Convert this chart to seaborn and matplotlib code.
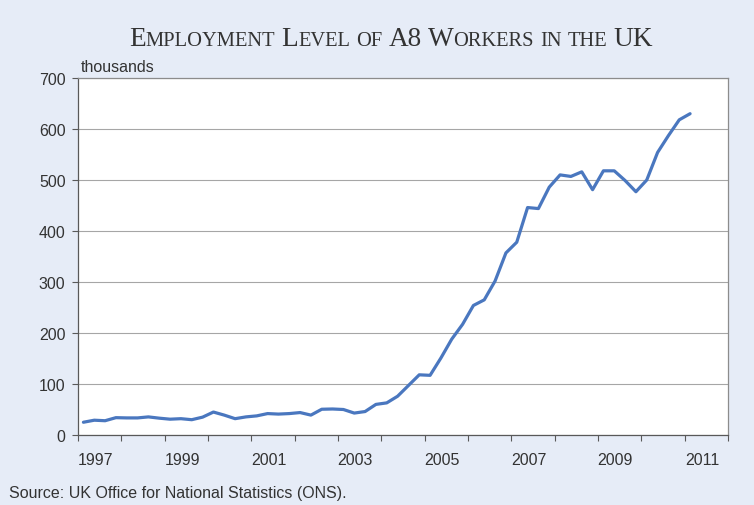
import numpy as np
import pandas as pd
import matplotlib
matplotlib.use("Agg")
import matplotlib.pyplot as plt
import seaborn as sns

# =====================
# Data (thousands, quarterly from 1997 Q1 to 2011 Q1)
# =====================
start_year = 1997
employment = [25, 29, 28, 34, 33.5, 33.5, 35.5, 33, 31, 32, 30, 35, 45, 39, 32, 35.5,
              37.5, 42, 41, 42, 44, 39, 50.5, 51, 50, 43, 46, 60, 63, 76, 97, 118,
              117, 151, 188, 217, 254, 265, 302, 357, 378, 446, 444, 486, 510, 507,
              516, 481, 518, 518, 499, 477, 500, 554, 587, 618, 630]
label_years = [1997, 1999, 2001, 2003, 2005, 2007, 2009, 2011]
y_ticks = [0, 100, 200, 300, 400, 500, 600, 700]
title_words = ["Employment", "Level", "of", "A8", "Workers", "in", "the", "UK"]
unit_label = "thousands"
source_text = "Source: UK Office for National Statistics (ONS)."

df = pd.DataFrame({
    "t": start_year + (np.arange(len(employment)) + 0.5) / 4,
    "value": employment,
})

# =====================
# Style
# =====================
bg = "#E6ECF7"
line_color = "#4A77BF"
text_color = "#333333"

sns.set_theme(style="white")
plt.rcParams["font.family"] = ["Liberation Sans", "DejaVu Sans"]

fig = plt.figure(figsize=(7.54, 5.06), dpi=100, facecolor=bg)
ax = fig.add_axes([78 / 754, 1 - 436 / 506, 650 / 754, 357 / 506])
ax.set_facecolor("white")

sns.lineplot(data=df, x="t", y="value", color=line_color, linewidth=2.3, ax=ax)

ax.set_xlim(1997, 2012)
ax.set_ylim(0, 700)
ax.set_xlabel("")
ax.set_ylabel("")

# year ticks on every year, labels between ticks
ax.set_xticks(np.arange(1997, 2013))
ax.set_xticklabels([])
ax.set_xticks([y + 0.4 for y in label_years], minor=True)
ax.set_xticklabels([str(y) for y in label_years], minor=True)
ax.tick_params(axis="x", which="major", direction="out", length=4, width=0.8,
               color="#595959", bottom=True)
ax.tick_params(axis="x", which="minor", length=0, pad=12, labelsize=11.5,
               labelcolor=text_color, bottom=True)

ax.set_yticks(y_ticks)
ax.tick_params(axis="y", direction="out", length=4, width=0.8, color="#595959",
               pad=5, labelsize=11.5, labelcolor=text_color, left=True)

ax.grid(axis="y", color="#A6A6A6", linewidth=0.8)
ax.grid(axis="x", visible=False)
ax.set_axisbelow(True)

for side in ["left", "bottom"]:
    ax.spines[side].set_color("#595959")
    ax.spines[side].set_linewidth(0.9)
for side in ["top", "right"]:
    ax.spines[side].set_color("#8C8C8C")
    ax.spines[side].set_linewidth(0.9)

fig.text(81 / 754, 1 - 67 / 506, unit_label, fontsize=11.5, color=text_color,
         va="center", ha="left")
fig.text(9 / 754, 1 - 494 / 506, source_text, fontsize=11.5, color=text_color,
         va="center", ha="left")

# =====================
# Small-caps title built from pieces
# =====================
renderer = fig.canvas.get_renderer()
baseline = 1 - 46 / 506
target_width = 525
gap = 6.0


def build_title(big, small):
    pieces = []
    x = 0.0
    for w in title_words:
        runs = []
        for ch in w:
            is_big = ch.isupper() or ch.isdigit()
            if runs and runs[-1][1] == is_big:
                runs[-1][0] += ch
            else:
                runs.append([ch, is_big])
        for txt, is_big in runs:
            t = fig.text(0, baseline, txt.upper(), fontsize=big if is_big else small,
                         family="Liberation Serif", color=text_color,
                         ha="left", va="baseline")
            pieces.append((t, x))
            x += t.get_window_extent(renderer).width
        x += gap
    return pieces, x - gap


pieces, total = build_title(19, 14.3)
scale = (target_width - gap * (len(title_words) - 1)) / (total - gap * (len(title_words) - 1))
for t, _ in pieces:
    t.remove()
pieces, total = build_title(19 * scale, 14.3 * scale)

left_px = 391 - total / 2
for t, off in pieces:
    t.set_x((left_px + off) / 754)

fig.savefig("out.png", dpi=100, facecolor=bg)
